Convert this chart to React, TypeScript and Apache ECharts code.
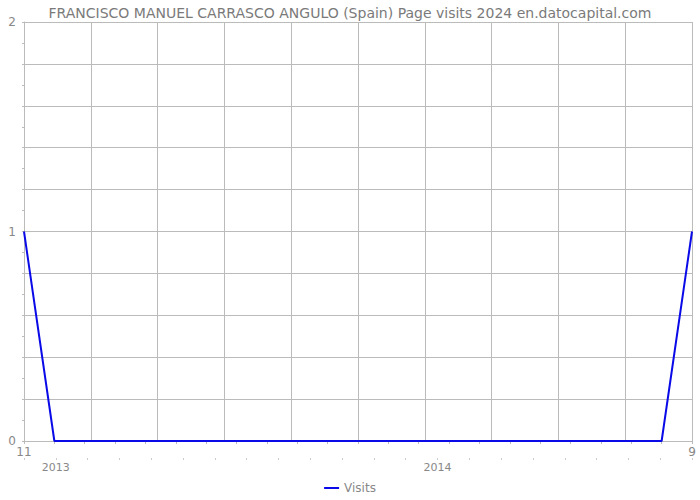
import React, { useEffect, useRef } from "react";
import * as echarts from "echarts";

const months = [
  "2012-11", "2012-12", "2013-01", "2013-02", "2013-03", "2013-04", "2013-05", "2013-06",
  "2013-07", "2013-08", "2013-09", "2013-10", "2013-11", "2013-12", "2014-01", "2014-02",
  "2014-03", "2014-04", "2014-05", "2014-06", "2014-07", "2014-08", "2014-09",
];
const visits = [1, 0, 0, 0, 0, 0, 0, 0, 0, 0, 0, 0, 0, 0, 0, 0, 0, 0, 0, 0, 0, 0, 1];
const monthLabels: Record<number, string> = { 0: "11", 22: "9" };
const yearSlots = 22;
const yearLabels: Record<number, string> = { 1: "2013", 13: "2014" };
const yLabels = [0, 1, 2];

const FONT = "DejaVu Sans";
const GRAY = "#888";

export default function App() {
  const ref = useRef<HTMLDivElement>(null);
  useEffect(() => {
    if (!ref.current) return;
    const chart = echarts.init(ref.current, undefined, { renderer: "svg" });
    const yearCats = Array.from({ length: yearSlots }, (_, i) => yearLabels[i] ?? "");
    chart.setOption({
      animation: false,
      title: {
        text: "FRANCISCO MANUEL CARRASCO ANGULO (Spain) Page visits 2024 en.datocapital.com",
        left: "center",
        top: 1,
        textStyle: { fontFamily: FONT, fontSize: 14, fontWeight: "normal", color: "#7a7a7a" },
      },
      legend: {
        bottom: 1,
        left: "center",
        data: ["Visits"],
        icon: "rect",
        itemWidth: 15,
        itemHeight: 2,
        itemGap: 5,
        textStyle: { fontFamily: FONT, fontSize: 12, color: GRAY },
      },
      grid: { left: 24, right: 8, top: 22, bottom: 59 },
      xAxis: [
        {
          type: "category",
          data: months,
          boundaryGap: false,
          axisLine: { lineStyle: { color: "#bbb" } },
          axisTick: { show: true, length: 3, interval: 0, lineStyle: { color: "#bbb" } },
          axisLabel: {
            interval: 0,
            formatter: (_v: string, i: number) => monthLabels[i] ?? "",
            color: GRAY,
            fontFamily: FONT,
            fontSize: 12,
            margin: 5,
          },
          splitLine: { show: false },
        },
        {
          type: "value",
          min: 0,
          max: 10,
          interval: 1,
          show: true,
          axisLine: { show: false },
          axisTick: { show: false },
          axisLabel: { show: false },
          splitLine: { show: true, lineStyle: { color: "#bbb", width: 1 } },
        },
        {
          type: "category",
          data: yearCats,
          boundaryGap: false,
          position: "bottom",
          offset: 17,
          axisLine: { show: false },
          axisTick: { show: true, length: 2, interval: 0, lineStyle: { color: "#ccc" } },
          axisLabel: {
            interval: 0,
            color: GRAY,
            fontFamily: FONT,
            fontSize: 11,
            margin: 4,
          },
          splitLine: { show: false },
        },
      ],
      yAxis: [
        {
          type: "value",
          min: 0,
          max: 2,
          interval: 0.2,
          axisLine: { show: true, lineStyle: { color: "#bbb" } },
          axisTick: { show: true, length: 2, lineStyle: { color: "#bbb" } },
          minorTick: { show: true, splitNumber: 2, length: 2, lineStyle: { color: "#bbb" } },
          axisLabel: {
            formatter: (v: number) => {
              const r = Math.round(v * 1000) / 1000;
              return yLabels.includes(r) ? String(r) : "";
            },
            color: GRAY,
            fontFamily: FONT,
            fontSize: 12,
            margin: 8,
          },
          splitLine: { show: true, lineStyle: { color: "#bbb", width: 1 } },
        },
      ],
      series: [
        {
          name: "Visits",
          type: "line",
          xAxisIndex: 0,
          yAxisIndex: 0,
          data: visits,
          showSymbol: false,
          symbol: "none",
          lineStyle: { color: "#0a0ae8", width: 2 },
          itemStyle: { color: "#0a0ae8" },
        },
      ],
    });
    return () => chart.dispose();
  }, []);
  return <div ref={ref} style={{ width: 700, height: 500, position: "absolute", left: 0, top: 0 }} />;
}
